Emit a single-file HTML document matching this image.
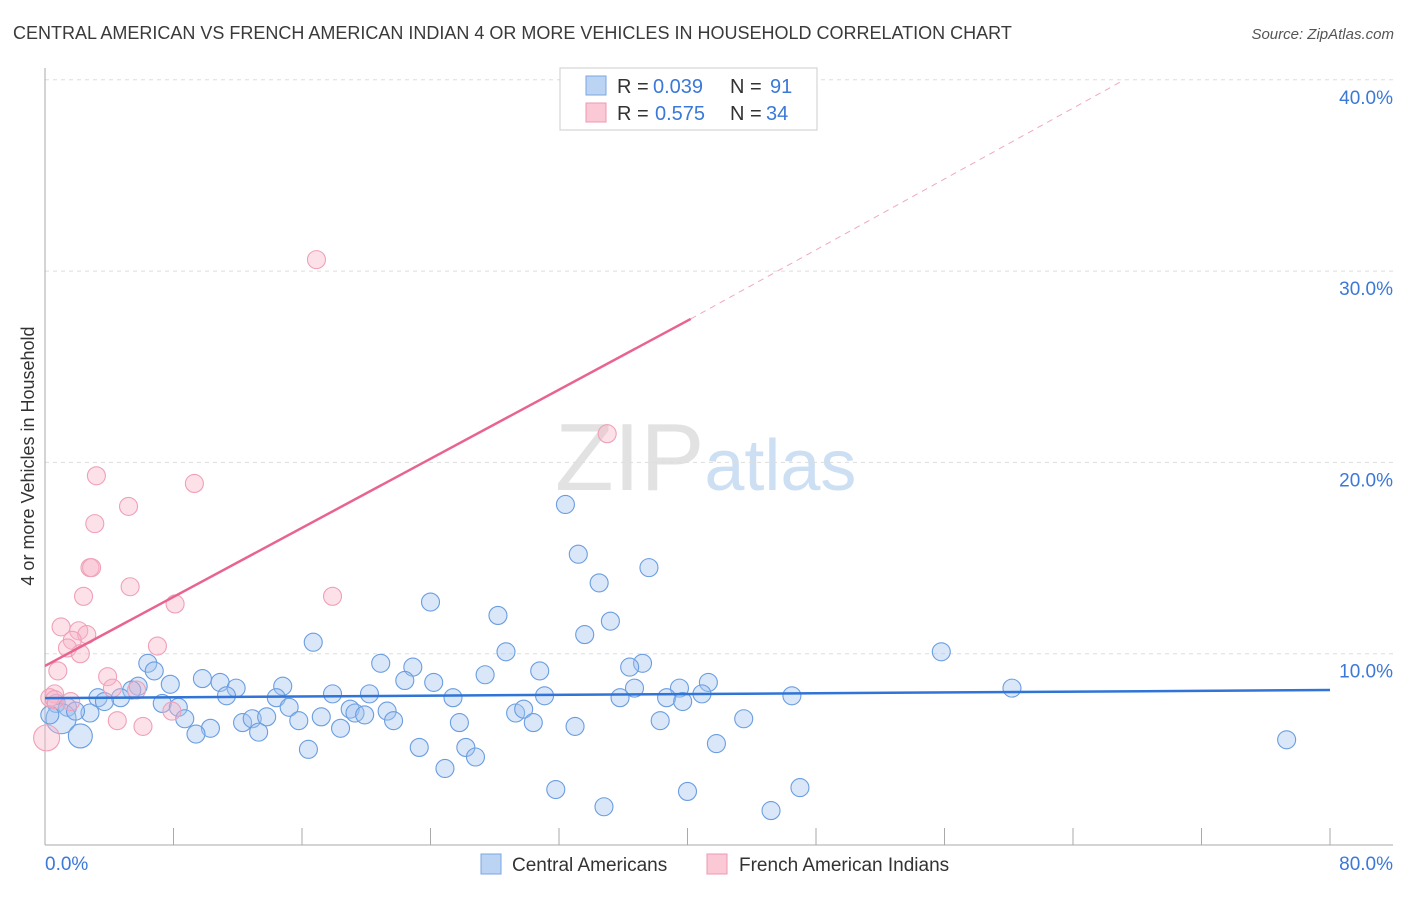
<!DOCTYPE html>
<html><head><meta charset="utf-8"><style>
body{margin:0;background:#fff;font-family:"Liberation Sans",sans-serif}
svg text{font-family:"Liberation Sans",sans-serif}
</style></head><body>
<svg id="chart" width="1406" height="892" viewBox="0 0 1406 892">
<text x="13" y="39" font-size="18" fill="#3a3a3a">CENTRAL AMERICAN VS FRENCH AMERICAN INDIAN 4 OR MORE VEHICLES IN HOUSEHOLD CORRELATION CHART</text>
<text x="1394" y="39" font-size="15" fill="#555" text-anchor="end" font-style="italic">Source: ZipAtlas.com</text>
<text x="555" y="490" font-size="96" fill="#e2e2e2" font-family="Liberation Serif">ZIP<tspan fill="#cddff3" font-family="Liberation Sans" font-size="72">atlas</tspan></text>
<text transform="translate(34,456) rotate(-90)" font-size="18" fill="#333" text-anchor="middle">4 or more Vehicles in Household</text>
<g id="grid"></g><g id="axes"></g><g id="marks"></g>
<g>
<rect x="560" y="68" width="257" height="62" fill="#fff" stroke="#ccc"/>
<rect x="586" y="76" width="20" height="19" fill="#bcd4f4" stroke="#7aa6e0"/>
<rect x="586" y="103" width="20" height="19" fill="#fbc8d6" stroke="#ee98b2"/>
<text x="617" y="93" font-size="20" fill="#333">R =</text>
<text x="653" y="93" font-size="20" fill="#3b78d8">0.039</text>
<text x="730" y="93" font-size="20" fill="#333">N =</text>
<text x="770" y="93" font-size="20" fill="#3b78d8">91</text>
<text x="617" y="120" font-size="20" fill="#333">R =</text>
<text x="655" y="120" font-size="20" fill="#3b78d8">0.575</text>
<text x="730" y="120" font-size="20" fill="#333">N =</text>
<text x="766" y="120" font-size="20" fill="#3b78d8">34</text>
</g>
<g>
<rect x="481" y="854" width="20" height="20" fill="#bcd4f4" stroke="#7aa6e0"/>
<text x="512" y="871" font-size="19" fill="#333">Central Americans</text>
<rect x="707" y="854" width="20" height="20" fill="#fbc8d6" stroke="#ee98b2"/>
<text x="739" y="871" font-size="19" fill="#333">French American Indians</text>
</g>
</svg>
<script>
const xTicks=[0,8,16,24,32,40,48,56,64,72,80];
const yTicks=[10,20,30,40];
const blueX=[32.4,33.2,37.6,34.5,24.0,28.2,35.2,33.6,16.7,28.7,55.8,6.4,6.8,20.9,22.9,37.2,36.4,30.8,27.4,22.4,24.2,9.8,10.9,11.9,7.8,41.3,39.5,36.7,60.2,14.8,5.8,5.4,3.3,4.7,3.7,17.9,20.2,25.4,31.1,38.7,40.9,39.7,35.8,46.5,11.3,14.4,7.3,8.3,15.2,0.7,1.4,2.8,1.0,1.9,0.3,8.7,12.3,12.9,13.8,15.8,17.2,19.0,19.3,19.9,21.3,21.7,25.8,29.3,29.8,30.4,38.3,43.5,10.3,18.4,33.0,9.4,13.3,2.2,23.3,26.2,26.8,16.4,41.8,77.3,24.9,31.8,34.8,40.0,47.0,45.2];
const blueY=[17.8,15.2,14.5,13.7,12.7,12.0,11.7,11.0,10.6,10.1,10.1,9.5,9.1,9.5,9.3,9.5,9.3,9.1,8.9,8.6,8.5,8.7,8.5,8.2,8.4,8.5,8.2,8.2,8.2,8.3,8.3,8.1,7.7,7.7,7.5,7.9,7.9,7.7,7.8,7.7,7.9,7.5,7.7,7.8,7.8,7.7,7.4,7.2,7.2,7.4,7.2,6.9,6.6,7.0,6.8,6.6,6.4,6.6,6.7,6.5,6.7,7.1,6.9,6.8,7.0,6.5,6.4,6.9,7.1,6.4,6.5,6.6,6.1,6.1,6.2,5.8,5.9,5.7,5.1,5.1,4.6,5.0,5.3,5.5,4.0,2.9,2.0,2.8,3.0,1.8];
const blueR=[9,9,9,9,9,9,9,9,9,9,9,9,9,9,9,9,9,9,9,9,9,9,9,9,9,9,9,9,9,9,9,9,9,9,9,9,9,9,9,9,9,9,9,9,9,9,9,9,9,9,9,9,15,9,9,9,9,9,9,9,9,9,9,9,9,9,9,9,9,9,9,9,9,9,9,9,9,12,9,9,9,9,9,9,9,9,9,9,9,9];
const pinkX=[16.9,35.0,3.2,9.3,5.2,3.1,2.8,2.9,5.3,2.4,17.9,8.1,1.0,2.1,2.6,1.7,1.4,2.2,7.0,0.8,3.9,4.2,5.7,0.6,0.3,0.6,1.6,7.9,4.5,6.1,0.1];
const pinkY=[30.6,21.5,19.3,18.9,17.7,16.8,14.5,14.5,13.5,13.0,13.0,12.6,11.4,11.2,11.0,10.7,10.3,10.0,10.4,9.1,8.8,8.2,8.1,7.9,7.7,7.6,7.5,7.0,6.5,6.2,5.6];
const blueTrendX=[0,80], blueTrendY=[7.68,8.1];
const pinkTrendX=[0,40.2], pinkTrendY=[9.36,27.5];
const pinkDashX=[40.2,67.2], pinkDashY=[27.5,40.0];
const NS='http://www.w3.org/2000/svg';
const sx=v=>45+v*(1330-45)/80, sy=v=>845-v*19.13;
function mk(t,a,p){const e=document.createElementNS(NS,t);for(const k in a)e.setAttribute(k,a[k]);p.appendChild(e);return e;}
const grid=document.getElementById('grid'),axes=document.getElementById('axes'),marks=document.getElementById('marks');
yTicks.forEach(v=>{
 const l=mk('line',{x1:45,x2:1393,y1:sy(v),y2:sy(v),stroke:'#ddd','stroke-dasharray':'4,4'},grid);
 
 
 const t=mk('text',{x:1393,y:sy(v)+24,'font-size':19,fill:'#3b78d8','text-anchor':'end'},axes);
 t.textContent=v.toFixed(1)+'%';
 
 
});
let a=mk('line',{x1:45,x2:45,y1:68,y2:845,stroke:'#aaa'},axes);


a=mk('line',{x1:45,x2:1393,y1:845,y2:845,stroke:'#aaa'},axes);


xTicks.forEach(v=>{
 const l=mk('line',{x1:sx(v),x2:sx(v),y1:828,y2:845,stroke:'#aaa'},axes);
 
 
});
[[0,'start',45],[80,'end',1393]].forEach(([v,anc,x])=>{
 const t=mk('text',{x:x,y:870,'font-size':19,fill:'#3b78d8','text-anchor':anc},axes);
 t.textContent=v.toFixed(1)+'%';
 
 
});
blueX.forEach((x,i)=>{
 const c=mk('circle',{cx:sx(x),cy:sy(blueY[i]),r:blueR[i],fill:'rgba(160,195,240,0.4)',stroke:'#6a9de0','stroke-width':1.1},marks);
 
 
});
pinkX.forEach((x,i)=>{
 const c=mk('circle',{cx:sx(x),cy:sy(pinkY[i]),r:i==pinkX.length-1?13:9,fill:'rgba(248,180,200,0.4)',stroke:'#f0a0b8','stroke-width':1.1},marks);
 
 
});
let tl=mk('line',{x1:sx(blueTrendX[0]),y1:sy(blueTrendY[0]),x2:sx(blueTrendX[1]),y2:sy(blueTrendY[1]),stroke:'#2f74d6','stroke-width':2.5},marks);


tl=mk('line',{x1:sx(pinkTrendX[0]),y1:sy(pinkTrendY[0]),x2:sx(pinkTrendX[1]),y2:sy(pinkTrendY[1]),stroke:'#e8648e','stroke-width':2.5},marks);


tl=mk('line',{x1:sx(pinkDashX[0]),y1:sy(pinkDashY[0]),x2:sx(pinkDashX[1]),y2:sy(pinkDashY[1]),stroke:'#f0a8be','stroke-width':1,'stroke-dasharray':'6,5'},marks);


</script>
</body></html>
